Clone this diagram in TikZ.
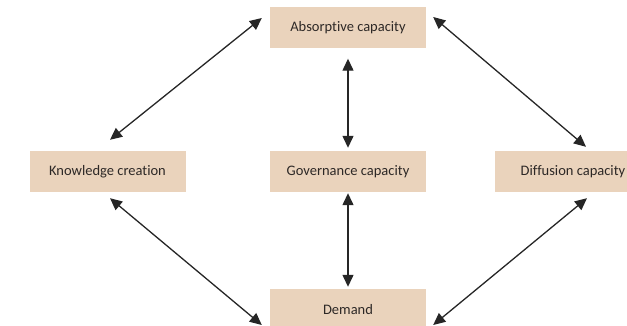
\documentclass[tikz,border=0pt]{standalone}
\usepackage{fontspec}
\setmainfont[Ligatures=NoCommon]{Carlito}
\usetikzlibrary{arrows.meta}
\definecolor{boxfill}{RGB}{234,211,188}
\definecolor{boxtext}{RGB}{45,40,38}
\tikzset{
  factor/.style={fill=boxfill, minimum width=156pt, minimum height=41pt,
    inner sep=0pt, text=boxtext, font=\fontsize{14.5}{16}\selectfont},
  link/.style={line width=1.3pt, draw=black!85,
    {Triangle[length=12pt,width=11pt]}-{Triangle[length=12pt,width=11pt]}}
}
\begin{document}
\begin{tikzpicture}[x=1pt,y=-1pt]
\useasboundingbox (0,0) rectangle (627,326);
\begin{scope}
\clip (0,0) rectangle (627,326);
\node[factor] (abs)  at (348,28)    {Absorptive capacity};
\node[factor] (kc)   at (107.5,171.5) {Knowledge creation};
\node[factor] (gov)  at (348,171.5) {Governance capacity};
\node[factor] (diff) at (573,171.5) {Diffusion capacity};
\node[factor] (dem)  at (348,309.5) {Demand};
\end{scope}

\draw[link] ([shift={(-8,-10)}]abs.west) -- ([shift={(2.5,-11)}]kc.north);
\draw[link] ([shift={(2.5,6)}]kc.south) -- ([shift={(-8,15.5)}]dem.west);
\draw[link] ([shift={(7,-11)}]abs.east) -- ([shift={(13,-4)}]diff.north);
\draw[link] ([shift={(14,6)}]diff.south) -- ([shift={(7,15.5)}]dem.east);
\draw[link, shorten <=10pt, shorten >=3pt] (abs.south) -- (gov.north);
\draw[link, shorten <=1pt, shorten >=2pt] (gov.south) -- (dem.north);
\end{tikzpicture}
\end{document}
